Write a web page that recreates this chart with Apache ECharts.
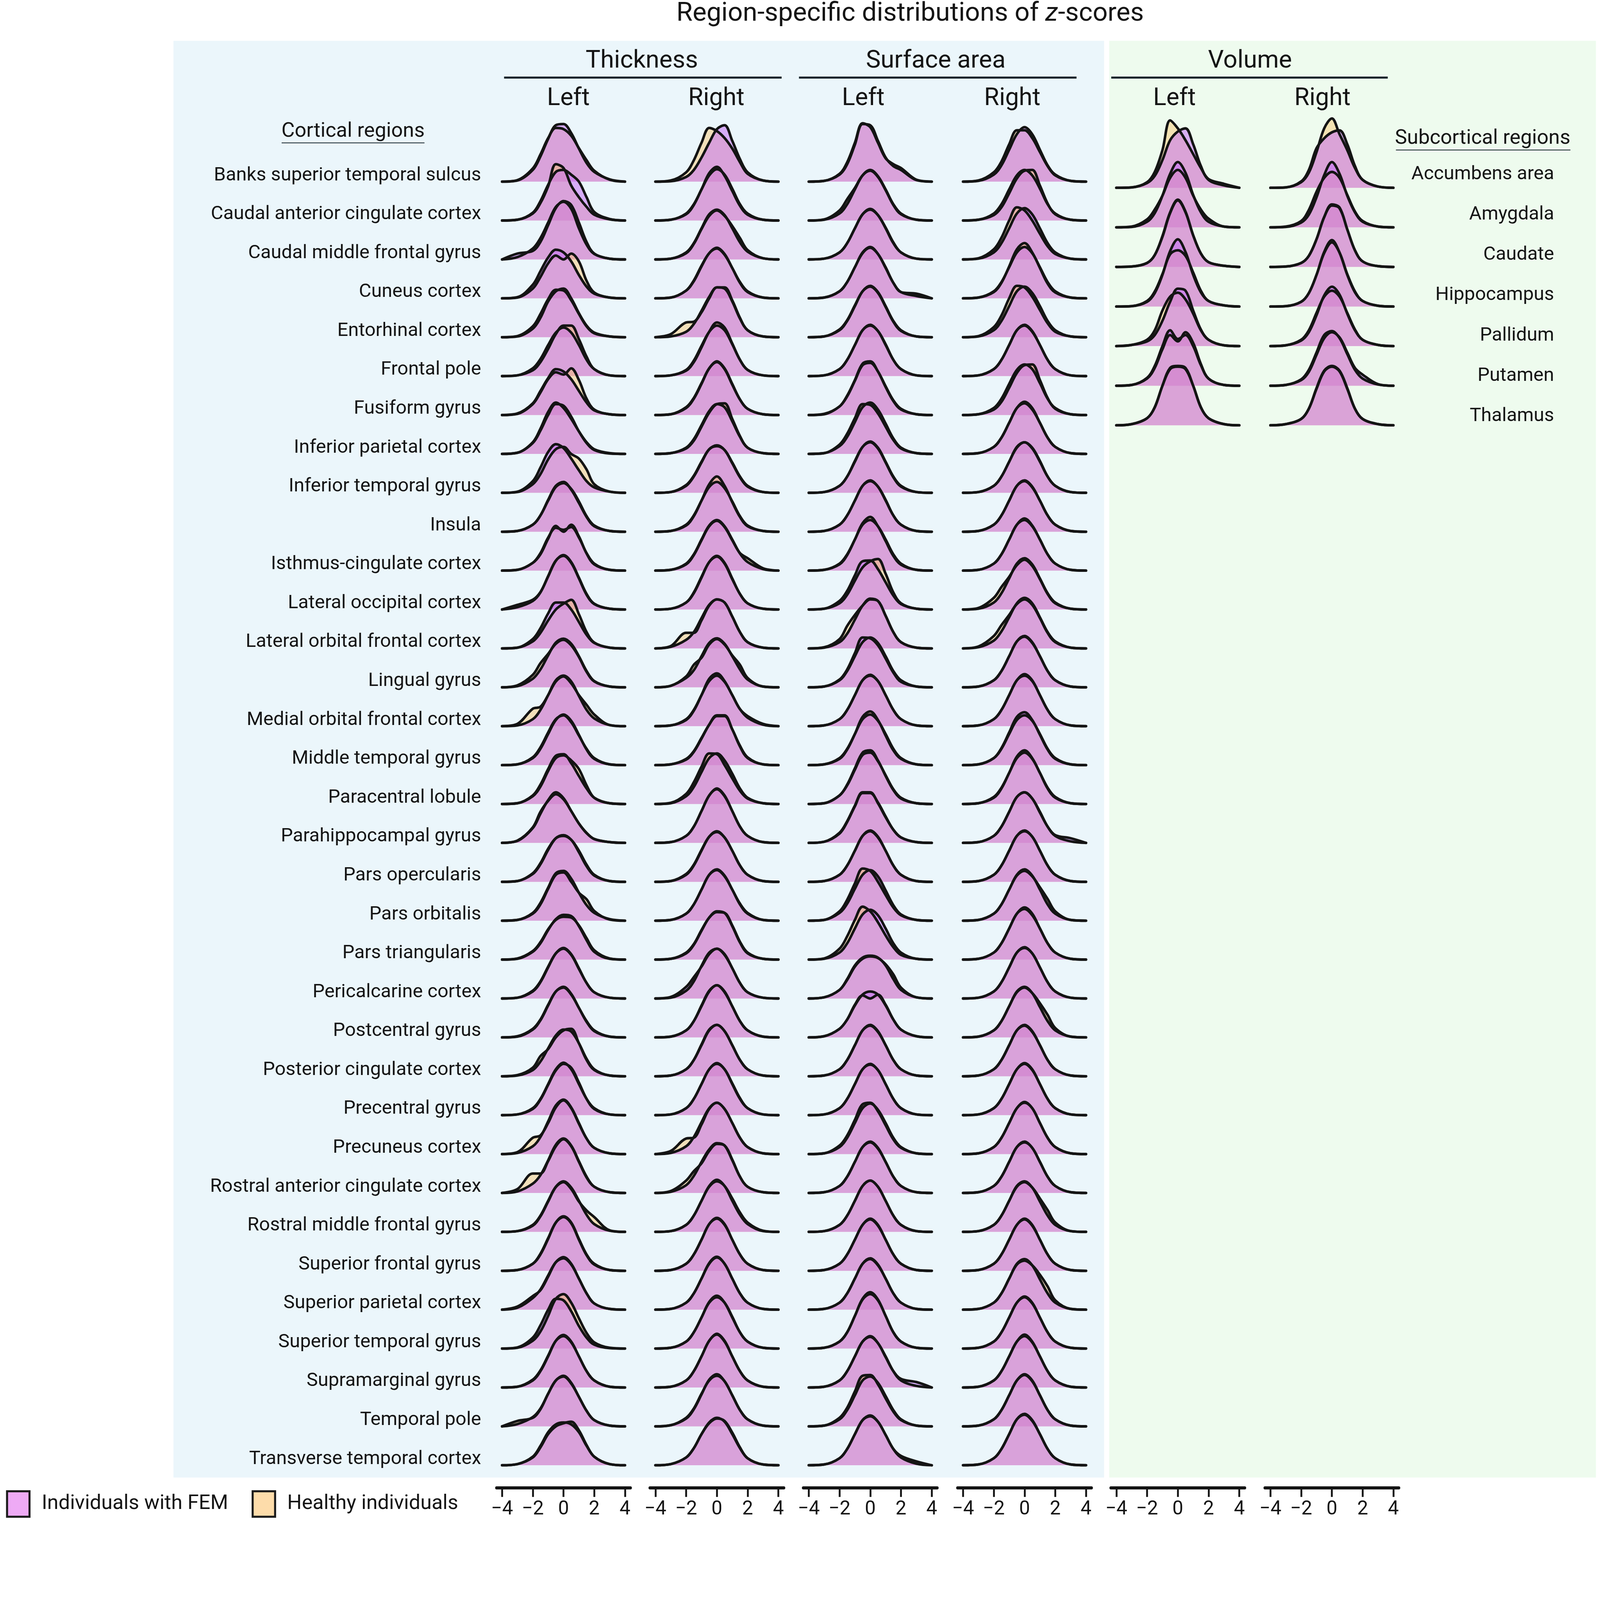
<!DOCTYPE html>
<html><head><meta charset="utf-8">
<script src="https://cdn.jsdelivr.net/npm/echarts@6/dist/echarts.min.js"></script>
<style>html,body{margin:0;padding:0;background:#fff;overflow:hidden}#c{width:100vw;height:100vh}</style>
</head><body><div id="c"></div>
<script>
// ---------------- DATA ----------------
const corticalRegions = ['Banks superior temporal sulcus','Caudal anterior cingulate cortex','Caudal middle frontal gyrus','Cuneus cortex','Entorhinal cortex','Frontal pole','Fusiform gyrus','Inferior parietal cortex','Inferior temporal gyrus','Insula','Isthmus-cingulate cortex','Lateral occipital cortex','Lateral orbital frontal cortex','Lingual gyrus','Medial orbital frontal cortex','Middle temporal gyrus','Paracentral lobule','Parahippocampal gyrus','Pars opercularis','Pars orbitalis','Pars triangularis','Pericalcarine cortex','Postcentral gyrus','Posterior cingulate cortex','Precentral gyrus','Precuneus cortex','Rostral anterior cingulate cortex','Rostral middle frontal gyrus','Superior frontal gyrus','Superior parietal cortex','Superior temporal gyrus','Supramarginal gyrus','Temporal pole','Transverse temporal cortex'];
const subcorticalRegions = ['Accumbens area','Amygdala','Caudate','Hippocampus','Pallidum','Putamen','Thalamus'];
const measures = ['Thickness','Surface area','Volume'];
const hemispheres = ['Left','Right'];
const groups = ['Individuals with FEM','Healthy individuals'];
const tickValues = [-4,-2,0,2,4];
// z-score positions at which densities are read (heights in % of one ridge row)
const zGrid = [-4,-3,-2,-1.5,-1,-0.5,0,0.5,1,1.5,2,3,4];

const thickLeftFEM = [
[0,3,30,65,110,145,148,125,85,48,25,6,0],[0,2,20,50,92,125,130,118,100,60,22,4,0],[0,15,22,45,88,132,150,140,95,45,15,2,0],[0,3,35,70,105,125,118,95,60,30,12,2,0],
[0,3,28,60,98,122,120,95,60,28,10,2,0],[0,2,20,44,80,112,125,112,80,42,18,2,0],[0,4,30,62,95,118,112,92,62,32,12,2,0],[0,3,28,60,100,128,124,96,58,28,10,1,0],
[0,3,30,65,105,125,115,88,58,30,14,3,0],[0,2,18,42,80,115,125,110,78,40,16,2,0],[0,2,20,45,85,110,105,112,85,45,18,2,0],[0,12,25,45,85,125,140,122,82,40,15,2,0],
[0,2,24,52,90,118,118,100,68,35,14,2,0],[0,3,22,46,82,115,125,112,80,42,16,2,0],[0,2,18,42,80,118,130,115,78,42,20,3,0],[0,2,18,42,80,116,130,114,78,40,16,2,0],
[0,2,22,50,90,124,128,105,72,40,16,2,0],[0,5,38,75,110,130,115,82,50,25,10,2,0],[0,2,20,45,82,112,120,108,76,40,16,2,0],[0,2,20,46,85,122,128,108,72,40,20,4,0],
[0,3,22,45,78,102,110,108,88,55,24,3,0],[0,2,18,42,80,116,130,114,78,40,16,2,0],[0,2,20,44,82,118,130,112,76,40,16,2,0],[0,2,16,38,72,105,120,115,85,45,18,2,0],
[0,2,18,42,80,118,135,118,80,42,18,2,0],[0,3,20,44,84,125,140,120,80,40,16,2,0],[0,4,24,46,84,124,140,122,82,42,16,2,0],[0,2,18,42,80,116,130,114,80,44,20,3,0],
[0,2,18,42,82,124,140,124,82,42,18,2,0],[0,8,35,50,85,122,135,118,80,42,16,2,0],[0,3,28,60,100,128,124,96,58,28,10,1,0],[0,2,18,42,80,120,135,118,80,42,18,2,0],
[0,6,24,46,84,118,130,112,76,40,16,2,0],[0,3,22,50,85,105,110,105,85,50,22,3,0]];
const thickLeftHC = [
[0,4,34,70,112,138,135,118,86,55,28,5,0],[0,2,18,45,88,145,135,90,60,35,15,3,0],[0,6,28,55,95,135,148,130,80,38,14,2,0],[0,2,25,55,90,110,100,115,95,45,15,2,0],
[0,2,22,50,92,118,125,100,62,30,12,2,0],[0,2,15,36,70,108,130,130,95,50,18,2,0],[0,3,28,58,92,110,104,120,90,42,14,2,0],[0,3,30,65,108,132,118,90,58,30,12,2,0],
[0,2,22,48,86,112,118,100,88,60,22,3,0],[0,2,18,42,82,118,128,108,74,38,14,2,0],[0,2,20,42,82,115,100,118,88,44,16,2,0],[0,6,22,44,86,126,138,120,80,38,14,2,0],
[0,2,18,40,72,100,115,125,88,42,15,2,0],[0,5,32,62,86,112,122,108,78,40,15,2,0],[0,6,45,50,80,115,128,110,80,55,30,3,0],[0,2,20,46,84,118,128,110,76,42,18,2,0],
[0,2,20,45,85,118,125,112,90,48,16,2,0],[0,6,40,80,108,125,112,82,50,26,10,2,0],[0,2,22,48,85,112,118,108,80,44,18,2,0],[0,2,18,42,82,118,124,100,72,55,25,3,0],
[0,2,20,42,76,104,115,112,86,50,20,2,0],[0,2,20,44,82,116,128,112,76,40,16,2,0],[0,3,22,46,84,118,128,110,76,42,18,2,0],[0,3,22,52,70,100,118,122,85,42,16,2,0],
[0,2,16,40,78,115,132,122,84,42,16,2,0],[0,5,42,48,80,120,138,118,78,40,16,2,0],[0,10,50,50,82,120,138,120,80,40,16,2,0],[0,2,16,40,78,115,128,110,78,55,38,4,0],
[0,2,18,44,84,124,138,122,80,40,16,2,0],[0,5,30,52,88,122,132,116,80,42,16,2,0],[0,2,20,44,84,128,140,118,78,40,16,2,0],[0,2,20,44,82,120,132,116,80,42,18,2,0],
[0,14,22,44,84,118,128,110,76,40,16,2,0],[0,3,20,46,80,100,108,112,90,52,22,3,0]];
const thickRightFEM = [
[0,1,12,30,62,100,135,145,105,58,24,3,0],[0,2,18,42,80,116,132,118,82,42,18,2,0],[0,2,18,42,80,116,128,114,80,44,20,3,0],[0,2,20,44,82,116,130,114,78,40,16,2,0],
[0,2,14,34,68,104,128,125,92,48,18,2,0],[0,2,16,40,78,114,130,118,82,42,16,2,0],[0,2,18,42,80,120,138,120,80,40,16,2,0],[0,2,16,38,74,110,128,120,84,44,16,2,0],
[0,2,18,42,78,112,122,110,76,40,16,2,0],[0,2,18,42,80,115,128,112,78,40,16,2,0],[0,2,18,42,80,116,130,114,80,44,22,4,0],[0,2,18,42,82,122,138,120,80,40,16,2,0],
[0,4,22,42,78,112,126,118,82,42,16,2,0],[0,4,24,44,80,114,126,112,80,46,20,2,0],[0,2,18,42,80,116,130,114,80,44,22,4,0],[0,2,14,34,68,104,128,128,92,48,18,2,0],
[0,2,20,44,82,118,130,112,78,40,16,2,0],[0,2,18,42,82,122,140,122,82,42,18,2,0],[0,2,18,42,80,116,130,114,80,42,18,2,0],[0,2,18,42,80,118,132,116,80,42,18,2,0],
[0,2,16,38,74,108,124,120,86,44,16,2,0],[0,4,30,55,82,114,128,114,78,40,16,2,0],[0,2,18,42,80,118,134,118,80,42,18,2,0],[0,2,18,42,80,118,132,116,80,42,18,2,0],
[0,2,18,42,80,118,134,118,80,42,18,2,0],[0,3,20,44,82,118,132,116,80,42,18,2,0],[0,3,20,44,80,112,128,122,84,42,16,2,0],[0,2,18,42,80,118,134,118,80,44,20,2,0],
[0,2,18,42,80,120,136,120,80,42,18,2,0],[0,2,18,42,80,120,136,118,80,42,18,2,0],[0,2,18,42,80,120,136,118,80,42,18,2,0],[0,2,18,42,80,120,138,120,80,42,18,2,0],
[0,3,20,44,82,120,134,116,80,42,18,2,0],[0,3,20,44,80,110,122,112,80,44,18,2,0]];
const thickRightHC = [
[0,3,24,55,100,138,130,112,85,50,20,3,0],[0,2,16,40,80,122,138,115,76,38,15,2,0],[0,2,16,40,78,112,126,112,86,55,24,3,0],[0,2,20,46,84,116,128,112,78,42,18,2,0],
[0,8,38,40,64,100,128,128,95,50,18,2,0],[0,2,14,36,74,114,138,125,84,42,16,2,0],[0,2,20,44,82,120,136,118,78,40,16,2,0],[0,2,14,34,70,106,128,130,90,46,16,2,0],
[0,2,20,44,80,112,120,110,78,42,18,2,0],[0,2,16,40,80,122,142,118,76,38,14,2,0],[0,2,16,40,78,114,128,112,78,45,32,6,0],[0,2,18,44,84,122,136,118,78,40,16,2,0],
[0,6,40,40,72,110,126,118,82,42,16,2,0],[0,4,28,58,76,110,124,110,82,58,24,2,0],[0,2,16,40,80,122,136,116,80,44,26,6,0],[0,2,16,36,70,104,126,126,92,50,20,2,0],
[0,3,26,56,96,130,128,100,66,34,14,2,0],[0,2,18,42,82,122,138,120,82,42,18,2,0],[0,2,20,44,82,116,128,114,80,42,18,2,0],[0,2,18,42,80,118,130,114,80,44,20,2,0],
[0,2,18,40,76,108,122,120,88,46,18,2,0],[0,2,20,44,84,118,128,112,78,40,16,2,0],[0,2,18,42,82,120,134,116,80,42,18,2,0],[0,2,18,42,82,120,132,116,80,42,18,2,0],
[0,2,18,42,80,118,132,118,82,44,18,2,0],[0,8,40,42,76,116,132,116,80,42,18,2,0],[0,5,32,56,76,108,126,122,86,42,16,2,0],[0,2,18,42,80,116,130,118,86,50,24,3,0],
[0,2,18,42,80,120,134,118,80,42,18,2,0],[0,2,18,42,80,118,134,118,80,42,18,2,0],[0,2,18,42,80,118,132,118,82,42,18,2,0],[0,2,18,42,80,120,136,118,80,42,18,2,0],
[0,3,22,46,84,118,130,116,80,42,18,2,0],[0,3,20,44,80,108,120,114,84,46,18,2,0]];
const surfLeftFEM = [
[0,2,18,45,95,148,145,105,62,40,30,4,0],[0,2,18,42,80,116,130,114,80,42,18,2,0],[0,2,18,42,80,116,130,114,80,42,18,2,0],[0,2,18,42,80,118,132,114,78,40,16,12,0],
[0,2,18,42,80,118,132,116,80,42,18,2,0],[0,2,18,42,80,118,132,116,80,42,18,2,0],[0,3,22,50,90,132,138,112,72,36,14,2,0],[0,2,20,44,82,120,132,114,78,40,16,2,0],
[0,2,18,42,80,118,132,116,80,42,18,2,0],[0,2,18,42,80,118,132,116,80,42,18,2,0],[0,2,18,42,80,118,130,114,80,42,18,2,0],[0,2,22,48,88,124,126,104,70,36,14,2,0],
[0,2,16,38,74,110,128,122,84,42,16,2,0],[0,2,20,46,88,128,126,108,74,38,14,2,0],[0,2,18,42,80,118,132,116,80,42,18,2,0],[0,2,18,42,80,118,130,114,80,42,18,2,0],
[0,2,22,50,92,132,138,112,72,36,14,2,0],[0,3,26,56,96,130,130,102,66,34,14,2,0],[0,2,18,42,80,118,132,116,80,42,18,2,0],[0,2,20,44,82,118,130,114,78,40,16,2,0],
[0,2,18,42,80,116,128,114,80,42,18,2,0],[0,3,22,50,85,105,110,105,85,50,22,3,0],[0,3,22,46,82,110,118,110,82,46,20,3,0],[0,2,18,42,80,118,132,116,80,42,18,2,0],
[0,2,18,42,80,118,132,116,80,42,18,2,0],[0,2,18,42,80,118,130,114,80,42,18,2,0],[0,2,18,42,80,118,132,116,80,42,18,2,0],[0,2,18,42,80,118,132,116,80,42,18,2,0],
[0,2,18,42,80,118,134,118,80,42,18,2,0],[0,2,18,42,80,118,132,116,80,42,18,2,0],[0,2,18,42,84,128,145,126,84,42,18,2,0],[0,2,18,42,80,118,132,114,78,42,22,14,0],
[0,2,18,42,80,118,128,112,78,42,18,2,0],[0,2,18,42,80,116,128,112,78,42,24,10,0]];
const surfLeftHC = [
[0,2,20,50,100,150,140,100,60,45,35,5,0],[0,3,26,55,84,116,128,112,78,40,16,2,0],[0,2,18,42,80,116,128,114,82,44,18,2,0],[0,2,18,42,80,116,130,114,80,40,16,6,0],
[0,2,20,44,82,118,130,114,78,40,16,2,0],[0,2,18,42,80,118,130,116,82,42,18,2,0],[0,2,22,48,88,128,134,112,74,38,16,2,0],[0,2,24,52,92,128,126,104,70,36,14,2,0],
[0,2,18,42,82,118,130,114,78,40,16,2,0],[0,2,18,42,80,118,130,116,82,42,18,2,0],[0,2,16,40,80,122,138,114,76,38,15,2,0],[0,2,16,38,74,108,124,130,92,44,16,2,0],
[0,3,24,58,86,110,126,122,84,42,16,2,0],[0,2,18,42,80,116,128,114,80,42,18,2,0],[0,2,18,42,80,118,130,116,80,42,18,2,0],[0,2,16,40,80,124,138,116,76,38,16,2,0],
[0,2,22,48,88,126,132,110,74,38,16,2,0],[0,3,24,54,94,128,128,104,68,34,14,2,0],[0,2,18,42,80,118,130,114,80,42,18,2,0],[0,2,24,54,96,134,128,100,66,34,14,2,0],
[0,3,28,60,102,136,124,96,62,32,12,2,0],[0,3,22,48,82,102,108,104,88,62,28,3,0],[0,3,22,46,84,108,100,110,84,46,20,3,0],[0,2,18,42,80,118,130,114,80,42,18,2,0],
[0,2,18,42,80,118,130,116,80,42,18,2,0],[0,2,22,48,88,128,132,110,74,38,16,2,0],[0,2,18,42,80,118,130,114,80,42,18,2,0],[0,2,18,42,80,118,132,116,80,42,18,2,0],
[0,2,18,42,80,118,132,116,80,42,18,2,0],[0,2,18,42,80,118,130,114,80,42,18,2,0],[0,2,18,42,84,126,140,124,84,42,18,2,0],[0,2,18,42,80,118,130,114,80,42,18,4,0],
[0,2,22,48,90,130,132,108,72,38,16,2,0],[0,2,18,42,80,116,126,112,78,42,20,4,0]];
const surfRightFEM = [
[0,2,18,42,82,122,140,122,82,42,18,2,0],[0,2,18,42,80,116,130,116,82,42,18,2,0],[0,2,18,42,80,118,132,116,80,42,18,2,0],[0,2,18,42,80,118,132,116,80,42,18,2,0],
[0,2,18,42,80,118,130,114,80,42,18,2,0],[0,2,18,42,80,118,132,116,80,42,18,2,0],[0,2,18,42,80,116,130,118,82,42,18,2,0],[0,2,18,42,80,118,134,118,80,42,18,2,0],
[0,2,18,42,80,118,130,114,80,42,18,2,0],[0,2,18,42,80,118,132,116,80,42,18,2,0],[0,2,18,42,80,118,134,116,80,42,18,2,0],[0,2,18,42,80,118,132,116,80,42,18,2,0],
[0,3,20,44,80,116,130,116,80,42,18,2,0],[0,2,18,42,80,118,132,116,80,42,18,2,0],[0,2,18,42,80,118,134,118,80,42,18,2,0],[0,2,18,44,84,124,136,116,78,40,16,2,0],
[0,2,18,42,80,118,132,116,80,42,18,2,0],[0,2,18,42,80,118,130,114,78,42,20,12,0],[0,2,18,42,80,118,132,116,80,42,18,2,0],[0,2,18,42,80,118,132,116,80,42,18,2,0],
[0,2,18,42,80,118,134,118,80,42,18,2,0],[0,2,18,42,80,118,132,116,80,42,18,2,0],[0,2,18,42,80,118,130,114,78,42,18,2,0],[0,2,18,42,80,118,132,116,80,42,18,2,0],
[0,2,18,42,80,118,134,118,80,42,18,2,0],[0,2,18,42,80,118,134,118,80,42,18,2,0],[0,2,18,42,80,118,132,116,80,42,18,2,0],[0,2,18,42,80,118,130,114,78,42,18,2,0],
[0,2,18,42,80,118,134,118,80,42,18,2,0],[0,2,18,42,80,118,130,114,78,42,18,2,0],[0,2,18,42,80,118,134,118,80,42,18,2,0],[0,2,18,42,80,118,136,118,80,42,18,2,0],
[0,2,18,42,80,118,134,118,80,42,18,2,0],[0,2,18,42,80,118,132,116,80,42,18,2,0]];
const surfRightHC = [
[0,3,24,52,96,132,132,112,76,40,16,2,0],[0,2,14,34,70,108,128,130,90,44,16,2,0],[0,3,26,56,100,134,126,100,66,34,14,2,0],[0,2,16,40,82,126,142,118,78,38,15,2,0],
[0,3,26,56,100,132,128,104,70,36,14,2,0],[0,2,18,42,80,118,130,114,80,42,18,2,0],[0,2,14,34,70,108,128,130,90,44,16,2,0],[0,2,18,42,80,118,130,114,80,42,18,2,0],
[0,2,18,42,80,116,130,116,82,42,18,2,0],[0,2,18,42,80,118,130,114,80,42,18,2,0],[0,2,18,42,80,118,130,114,80,42,18,2,0],[0,4,30,58,84,114,128,112,78,40,16,2,0],
[0,5,32,60,86,114,126,112,78,40,16,2,0],[0,2,18,42,80,118,130,114,80,42,18,2,0],[0,2,18,42,80,118,130,116,80,42,18,2,0],[0,2,18,42,80,116,128,114,80,42,18,2,0],
[0,2,16,40,80,122,138,118,80,40,16,2,0],[0,2,18,42,80,118,130,114,80,42,18,4,0],[0,2,18,42,80,118,130,116,80,42,18,2,0],[0,2,18,42,80,116,128,114,86,56,24,2,0],
[0,2,18,42,80,118,130,114,80,42,18,2,0],[0,2,18,42,80,118,130,116,80,42,18,2,0],[0,2,18,42,80,116,128,114,88,58,24,2,0],[0,2,18,42,80,118,130,114,80,42,18,2,0],
[0,2,18,42,80,118,132,116,80,42,18,2,0],[0,2,18,42,80,118,132,118,80,42,18,2,0],[0,2,18,42,80,118,130,116,80,42,18,2,0],[0,2,18,42,80,116,128,114,86,56,24,2,0],
[0,2,18,42,80,118,132,116,80,42,18,2,0],[0,2,18,42,80,116,126,114,90,60,24,2,0],[0,2,18,42,80,118,132,116,80,42,18,2,0],[0,2,18,42,80,118,132,116,80,42,18,2,0],
[0,2,18,42,80,118,132,116,80,42,18,2,0],[0,2,18,42,80,118,130,114,80,42,18,2,0]];
const volLeftFEM = [
[0,1,12,30,70,120,142,150,110,55,20,6,0],[0,1,14,36,80,135,165,138,82,38,14,2,0],[0,1,10,30,78,138,170,140,80,34,12,3,0],[0,1,12,34,80,140,170,138,80,36,14,3,0],
[0,3,12,28,64,112,145,140,90,42,16,2,0],[0,2,20,50,100,140,118,128,100,52,18,2,0],[0,3,18,45,100,145,150,145,100,45,18,3,0]];
const volLeftHC = [
[0,1,14,40,95,170,150,120,85,50,22,10,0],[0,2,20,45,80,125,145,125,80,45,22,2,0],[0,1,10,30,76,136,168,138,80,34,12,3,0],[0,1,14,38,82,132,142,128,86,40,14,3,0],
[0,3,16,40,90,125,135,118,82,40,16,2,0],[0,2,18,45,92,128,112,135,108,55,18,2,0],[0,3,18,46,100,142,148,142,100,46,18,3,0]];
const volRightFEM = [
[0,1,16,45,100,125,140,145,110,55,20,3,0],[0,1,12,32,76,132,165,135,80,38,14,2,0],[0,1,10,28,70,126,158,150,95,42,14,2,0],[0,1,12,34,80,135,162,136,82,38,14,2,0],
[0,2,14,35,78,128,150,130,82,40,16,3,0],[0,2,14,35,78,120,135,122,84,45,28,4,0],[0,3,16,42,94,138,150,138,94,42,16,3,0]];
const volRightHC = [
[0,1,14,38,90,150,175,135,95,50,20,3,0],[0,2,16,44,90,125,140,125,82,40,16,2,0],[0,1,10,28,70,126,155,148,95,42,14,2,0],[0,1,12,34,80,138,168,136,80,36,14,2,0],
[0,2,16,40,84,125,140,125,84,42,16,3,0],[0,2,16,40,84,128,138,120,80,40,18,3,0],[0,3,16,42,92,136,148,136,92,42,16,3,0]];

// ---------------- LAYOUT / STYLE ----------------
const el = document.getElementById('c');
const W = el.clientWidth || window.innerWidth, H = el.clientHeight || window.innerHeight;
const S = Math.min(W / 1568, H / 1494);     // layout measured on a 1568x1494 view
const px = v => v * S;
const FONT = 'Roboto, "Noto Sans", sans-serif';
const INK = '#141414';
const femColor = '#C470F6', hcColor = '#F8C468';

const panels = [
  {fem: thickLeftFEM,  hc: thickLeftHC,  x0: 492,   rows: 34, base0: 178, sp: 38.12, head: 557},
  {fem: thickRightFEM, hc: thickRightHC, x0: 642.3, rows: 34, base0: 178, sp: 38.12, head: 702},
  {fem: surfLeftFEM,   hc: surfLeftHC,   x0: 792.6, rows: 34, base0: 178, sp: 38.12, head: 846},
  {fem: surfRightFEM,  hc: surfRightHC,  x0: 943.8, rows: 34, base0: 178, sp: 38.12, head: 992},
  {fem: volLeftFEM,    hc: volLeftHC,    x0: 1094,  rows: 7,  base0: 184, sp: 38.8,  head: 1151},
  {fem: volRightFEM,   hc: volRightHC,   x0: 1245,  rows: 7,  base0: 184, sp: 38.8,  head: 1296}
];
const AX_W = 120.5, XPAD = 0.35, HEADROOM = 2.0, AXIS_Y = 1458;

const grids = [], xAxes = [], yAxes = [], series = [];
panels.forEach((p, pi) => {
  const unit = AX_W / 8;
  const lastBase = p.base0 + (p.rows - 1) * p.sp;
  grids.push({
    left: px(p.x0 - XPAD * unit), width: px(AX_W + 2 * XPAD * unit),
    top: px(p.base0 - HEADROOM * p.sp), height: px((p.rows - 1 + HEADROOM) * p.sp),
    containLabel: false
  });
  xAxes.push({
    type: 'value', gridIndex: pi, min: -4 - XPAD, max: 4 + XPAD,
    position: 'bottom', offset: px(AXIS_Y - lastBase),
    splitLine: {show: false},
    axisLine: {show: true, onZero: false, lineStyle: {color: INK, width: px(3)}},
    axisTick: {show: true, customValues: tickValues, length: px(9), lineStyle: {color: INK, width: px(1.8)}},
    axisLabel: {show: true, customValues: tickValues, margin: px(12), fontSize: px(19), fontFamily: FONT, color: INK,
      formatter: v => (v < 0 ? '\u2212' + Math.abs(v) : String(v))}
  });
  yAxes.push({type: 'value', gridIndex: pi, min: 0, max: p.rows - 1 + HEADROOM, show: false, splitLine: {show: false}});
  for (let i = 0; i < p.rows; i++) {
    const base = p.rows - 1 - i;
    [[groups[1], p.hc, hcColor, 0.45], [groups[0], p.fem, femColor, 0.55]].forEach(([name, arr, col, op]) => {
      series.push({
        type: 'line', name, xAxisIndex: pi, yAxisIndex: pi,
        data: zGrid.map((z, j) => [z, base + arr[i][j] / 100]),
        smooth: 0.35, symbol: 'none', showSymbol: false, clip: false, silent: true,
        lineStyle: {color: INK, width: px(2.5), cap: 'round', join: 'round'},
        itemStyle: {color: col},
        areaStyle: {color: col, opacity: op, origin: base}
      });
    });
  }
});

// ---------------- TEXT & DECORATION ----------------
const txt = (text, x, y, size, align) => ({
  type: 'text', x: px(x), y: px(y), z: 20, silent: true,
  style: {text, fill: INK, fontSize: px(size), fontFamily: FONT, fontWeight: 'normal', align, verticalAlign: 'middle'}
});
const hline = (x1, x2, y, w) => ({type: 'line', z: 20, silent: true,
  shape: {x1: px(x1), y1: px(y), x2: px(x2), y2: px(y)}, style: {stroke: '#15232b', lineWidth: px(w)}});

const graphics = [
  {type: 'rect', z: -10, silent: true, shape: {x: px(170), y: px(40), width: px(912), height: px(1408)}, style: {fill: '#EBF6FB'}},
  {type: 'rect', z: -10, silent: true, shape: {x: px(1087), y: px(40), width: px(477), height: px(1408)}, style: {fill: '#EEFBEE'}}
];
const measureCenters = [629, 917, 1225], measureLines = [[494, 766], [783, 1055], [1089, 1360]];
measures.forEach((m, k) => {
  graphics.push(txt(m, measureCenters[k], 60, 24.3, 'center'));
  graphics.push(hline(measureLines[k][0], measureLines[k][1], 76, 2));
});
panels.forEach((p, pi) => graphics.push(txt(hemispheres[pi % 2], p.head, 97, 24, 'center')));
graphics.push(txt('Cortical regions', 346, 129, 20, 'center'));
graphics.push(hline(276, 416, 140, 0.8));
corticalRegions.forEach((r, i) => graphics.push(txt(r, 471.5, 172 + 38.12 * i, 18.7, 'right')));
graphics.push(txt('Subcortical regions', 1453, 136, 20, 'center'));
graphics.push(hline(1368, 1539, 147, 0.8));
subcorticalRegions.forEach((r, i) => graphics.push(txt(r, 1523, 171 + 39.5 * i, 18.7, 'right')));

const chart = echarts.init(el, null, {renderer: 'canvas'});
chart.setOption({
  animation: false,
  backgroundColor: '#ffffff',
  title: {
    text: '{a|Region-specific distributions of }{i|z}{a|-scores}',
    left: px(890), top: px(12) - px(27) / 2, textAlign: 'center',
    textStyle: {fontWeight: 'normal', rich: {
      a: {fontSize: px(25.8), fontFamily: FONT, fontWeight: 'normal', color: INK, lineHeight: px(27)},
      i: {fontSize: px(25.8), fontFamily: FONT, fontWeight: 'normal', color: INK, fontStyle: 'italic', lineHeight: px(27)}
    }}
  },
  legend: {
    left: px(4), top: px(1458.5), icon: 'rect', selectedMode: false,
    itemWidth: px(22), itemHeight: px(25), itemGap: px(23),
    data: [
      {name: groups[0], itemStyle: {color: '#EEAAF5', borderColor: '#1b1b1b', borderWidth: px(2)}},
      {name: groups[1], itemStyle: {color: '#FDDCAA', borderColor: '#1b1b1b', borderWidth: px(2)}}
    ],
    textStyle: {fontSize: px(20), fontFamily: FONT, color: INK, padding: [0, 0, 0, px(10)]}
  },
  grid: grids, xAxis: xAxes, yAxis: yAxes, series,
  graphic: graphics
});
</script></body></html>
